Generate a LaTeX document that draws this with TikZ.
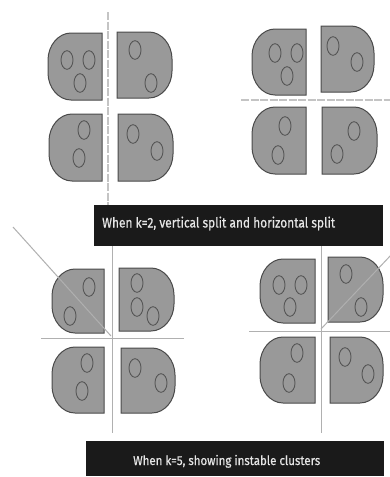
\documentclass[tikz,border=0pt]{standalone}
\usepackage{fontspec}
\usepackage{graphicx}
\newfontfamily\capfont[FakeBold=0.6]{Fira Sans}
\definecolor{blobfill}{HTML}{999999}
\definecolor{blobline}{HTML}{4A4A4A}
\definecolor{dotline}{HTML}{555555}
\definecolor{splitgray}{HTML}{C4C4C4}
\definecolor{boxblack}{HTML}{1A1A1A}
\definecolor{captext}{HTML}{E6E6E6}
\tikzset{
  blob/.style={fill=blobfill, draw=blobline, line width=1pt},
  dot/.style={draw=dotline, line width=0.9pt},
  dashsplit/.style={draw=splitgray, line width=1.4pt, dash pattern=on 8pt off 1.5pt},
  solidsplit/.style={draw=splitgray!90!black, line width=1pt},
  capbox/.style={fill=boxblack, draw=none},
  capstyle/.style={text=captext, inner sep=0pt}
}
% left-rounded blob: x1 y1 x2 y2
\newcommand\leftblob[4]{%
  \draw[blob] (#3,#2) -- ({#1+23},#2)
    .. controls ({#1+10},#2) and (#1,{#2+13}) .. (#1,{#2+27})
    -- (#1,{#4-27})
    .. controls (#1,{#4-13}) and ({#1+10},#4) .. ({#1+23},#4)
    -- (#3,#4) -- cycle;}
% right-rounded blob: x1 y1 x2 y2
\newcommand\rightblob[4]{%
  \draw[blob] (#1,#2) -- ({#3-23},#2)
    .. controls ({#3-10},#2) and (#3,{#2+13}) .. (#3,{#2+27})
    -- (#3,{#4-27})
    .. controls (#3,{#4-13}) and ({#3-10},#4) .. ({#3-23},#4)
    -- (#1,#4) -- cycle;}
\newcommand\pt[2]{\draw[dot] (#1,#2) ellipse [x radius=6, y radius=9.3];}
\begin{document}
\begin{tikzpicture}[x=1pt,y=-1pt]
\useasboundingbox[fill=white] (0,0) rectangle (390,477);

% ---------- group A (top left): vertical split ----------
\coordinate (a1) at (108,12);
\coordinate (a2) at (108,205);
\draw[dashsplit] (a1) -- (a2);
\leftblob{48}{33}{102}{100}
\pt{67}{60}\pt{89}{60}\pt{80}{83}
\rightblob{117}{32}{172}{98}
\pt{135}{50}\pt{151}{83}
\leftblob{49}{114}{102}{181}
\pt{84}{130}\pt{79}{158}
\rightblob{118}{114}{173}{181}
\pt{133}{134}\pt{157}{151}

% ---------- group B (top right): horizontal split ----------
\coordinate (b1) at (241,100);
\coordinate (b2) at (390,100);
\draw[dashsplit] (b1) -- (b2);
\leftblob{252}{29}{306}{95}
\pt{275}{53}\pt{297}{53}\pt{287}{76}
\rightblob{321}{26}{374}{92}
\pt{333}{46}\pt{357}{62}
\leftblob{252}{107}{306}{174}
\pt{285}{126}\pt{278}{155}
\rightblob{322}{107}{377}{174}
\pt{354}{131}\pt{337}{154}

% ---------- caption 1 ----------
\fill[capbox] (94,205) rectangle (383,246);
\node[capstyle, anchor=base west] (cap1) at (102,227.5)
  {\resizebox{233pt}{\height}{\capfont\fontsize{14}{16}\selectfont When k=2, vertical split and horizontal split}};

% ---------- group C (bottom left) ----------
\leftblob{52}{269}{104}{333}
\pt{89}{287}\pt{70}{316}
\rightblob{119}{268}{174}{331}
\pt{137}{283}\pt{137}{307}\pt{153}{316}
\leftblob{52}{347}{104}{413}
\pt{87}{363}\pt{82}{391}
\rightblob{121}{348}{175}{413}
\pt{135}{368}\pt{161}{383}
\coordinate (c1) at (112,246);
\coordinate (c2) at (112,433);
\coordinate (c3) at (41,338);
\coordinate (c4) at (184,338);
\coordinate (c5) at (13,227);
\coordinate (c6) at (111,336);
\draw[solidsplit] (c1) -- (c2);
\draw[solidsplit] (c3) -- (c4);
\draw[solidsplit] (c5) -- (c6);

% ---------- group D (bottom right) ----------
\leftblob{260}{259}{315}{323}
\pt{279}{285}\pt{301}{285}\pt{290}{307}
\rightblob{328}{257}{383}{322}
\pt{346}{274}\pt{361}{307}
\leftblob{260}{337}{315}{403}
\pt{297}{353}\pt{289}{383}
\rightblob{330}{337}{383}{403}
\pt{345}{357}\pt{368}{374}
\coordinate (d1) at (321,246);
\coordinate (d2) at (321,433);
\coordinate (d3) at (249,331);
\coordinate (d4) at (390,331);
\coordinate (d5) at (321,329);
\coordinate (d6) at (392,254);
\draw[solidsplit] (d1) -- (d2);
\draw[solidsplit] (d3) -- (d4);
\draw[solidsplit] (d5) -- (d6);

% ---------- caption 2 ----------
\fill[capbox] (86,441) rectangle (384,476);
\node[capstyle, anchor=base west] (cap2) at (133,465)
  {\resizebox{187pt}{\height}{\capfont\fontsize{13}{15}\selectfont When k=5, showing instable clusters}};
\end{tikzpicture}
\end{document}
